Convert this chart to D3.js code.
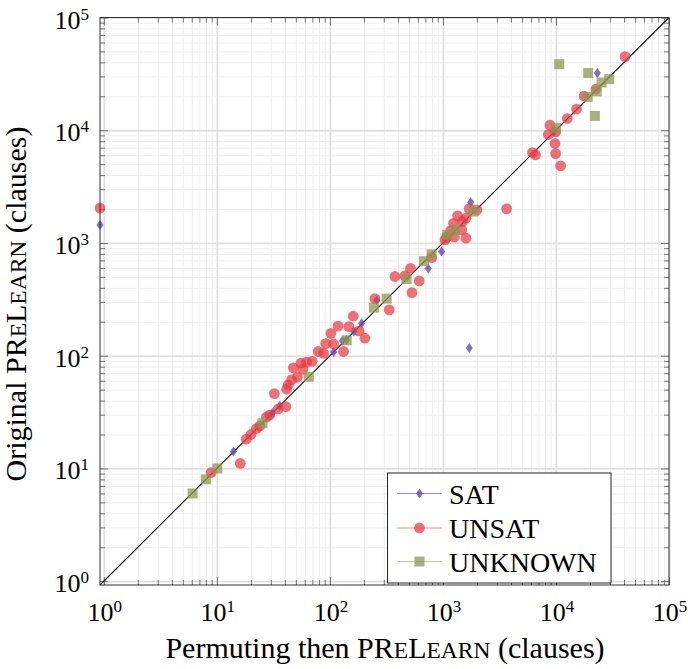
<!DOCTYPE html>
<html>
<head>
<meta charset="utf-8">
<script src="https://cdn.jsdelivr.net/npm/d3@7"></script>
<style>
body { margin: 0; background: #fff; }
text { font-family: "Liberation Serif", "DejaVu Serif", serif; fill: #000; }
</style>
</head>
<body>
<div id="chart"></div>
<script>
// values: [permuting then prelearn, original prelearn]
var satPoints = [[0.925,1440],[14,14.1],[31,31],[36,36],[108,108],[129,136],[140,138],[163,164],
  [191,194],[260,310],[741,593],[973,839],[1760,2300],[1710,117],[9600,9700],[23200,32200]];

var unsatPoints = [[0.925,2040],[8.9,9.2],[16.1,11.1],[18.2,18.2],[20,20],[22.4,22.6],[24,23.8],
  [27.5,28.5],[29.4,29.8],[32.3,46.1],[34.9,33.7],[40.8,35.3],[41.4,50.4],[42.8,55.1],[45.8,61],
  [47.5,78],[51.6,64.4],[55.4,85.8],[57.7,75.7],[62.2,87.5],[69.7,89],[78.8,109],[87.9,105],
  [91.8,128],[102,158],[108,127],[118,183],[132,109],[147,181],[161,224],[181,166],[204,143],
  [250,321],[335,255],[376,504],[461,511],[516,595],[617,461],[532,363],[794,741],[1042,1065],
  [1079,1125],[1259,1125],[1170,1288],[1239,1493],[1349,1740],[1489,1555],[1599,1660],[1599,1104],
  [1710,2017],[2000,1967],[1465,1306],[3660,2008],[6200,6340],[6590,6050],[8550,9160],[8850,11100],
  [9940,9680],[9800,7620],[9940,6210],[11000,4830],[12600,12700],[15200,15400],[17700,20100],
  [22600,23200],[40800,45000]];

var unknownPoints = [[6.1,6],[8,8],[10.1,10],[25.3,25.2],[65,65],[141,137],[245,267],[318,321],
  [477,478],[679,689],[794,793],[1092,1180],[1277,1306],[1862,1900],[10000,10440],[10700,38500],
  [19300,32200],[22900,22100],[19100,19700],[25300,26500],[29600,28400],[22100,13400]];

var seriesNames = ["SAT", "UNSAT", "UNKNOWN"];
var majorTicks = [1, 10, 100, 1000, 10000, 100000];
var tickExponents = ["0", "1", "2", "3", "4", "5"];
var minorTicks = [];
majorTicks.slice(0, 5).forEach(function(m) {
  for (var k = 2; k < 10; k++) minorTicks.push(k * m);
});

var W = 688, H = 669;
var plotLeft = 100, plotRight = 669, plotTop = 17.5, plotBottom = 585;

var x = d3.scaleLog().domain([0.925, 1e5]).range([plotLeft, plotRight]);
var y = d3.scaleLog().domain([0.925, 1e5]).range([plotBottom, plotTop]);

var svg = d3.select("#chart").append("svg")
  .attr("width", W)
  .attr("height", H);

// grid
function gridStyle(g, color, width) {
  g.select(".domain").remove();
  g.selectAll("line").attr("stroke", color).attr("stroke-width", width);
}
svg.append("g").attr("transform", "translate(0," + plotBottom + ")")
  .call(d3.axisBottom(x).tickValues(minorTicks).tickSize(-(plotBottom - plotTop)).tickFormat(""))
  .call(gridStyle, "#eeeeee", 1);
svg.append("g").attr("transform", "translate(" + plotLeft + ",0)")
  .call(d3.axisLeft(y).tickValues(minorTicks).tickSize(-(plotRight - plotLeft)).tickFormat(""))
  .call(gridStyle, "#eeeeee", 1);
svg.append("g").attr("transform", "translate(0," + plotBottom + ")")
  .call(d3.axisBottom(x).tickValues(majorTicks).tickSize(-(plotBottom - plotTop)).tickFormat(""))
  .call(gridStyle, "#e0e0e0", 1.8);
svg.append("g").attr("transform", "translate(" + plotLeft + ",0)")
  .call(d3.axisLeft(y).tickValues(majorTicks).tickSize(-(plotRight - plotLeft)).tickFormat(""))
  .call(gridStyle, "#e0e0e0", 1.8);

// ticks pointing inwards on all four sides
function tickStyle(g) {
  g.select(".domain").remove();
  g.selectAll("line").attr("stroke", "#555").attr("stroke-width", 0.8);
}
[[d3.axisBottom, x, "translate(0," + plotBottom + ")"],
 [d3.axisTop, x, "translate(0," + plotTop + ")"],
 [d3.axisLeft, y, "translate(" + plotLeft + ",0)"],
 [d3.axisRight, y, "translate(" + plotRight + ",0)"]].forEach(function(a) {
  svg.append("g").attr("transform", a[2])
    .call(a[0](a[1]).tickValues(minorTicks).tickSize(-5).tickFormat(""))
    .call(tickStyle);
  svg.append("g").attr("transform", a[2])
    .call(a[0](a[1]).tickValues(majorTicks).tickSize(-8).tickFormat(""))
    .call(tickStyle);
});

// tick labels 10^n
function powerLabel(t, i) {
  t.append("tspan").text("10");
  t.append("tspan").attr("dy", -9).attr("font-size", 17).text(tickExponents[i]);
}
majorTicks.forEach(function(d, i) {
  svg.append("text")
    .attr("x", x(d) + 1)
    .attr("y", 621)
    .attr("text-anchor", "middle")
    .attr("font-size", 26)
    .call(powerLabel, i);
  svg.append("text")
    .attr("x", 89)
    .attr("y", y(d) + 11)
    .attr("text-anchor", "end")
    .attr("font-size", 26)
    .call(powerLabel, i);
});

// diagonal y = x
svg.append("line")
  .attr("x1", x(0.925)).attr("y1", y(0.925))
  .attr("x2", x(1e5)).attr("y2", y(1e5))
  .attr("stroke", "#111")
  .attr("stroke-width", 1.1);

// markers
var colors = ["#6246bb", "#e83a44", "#8c9852"];
var opac = [0.8, 0.72, 0.75];
var lineColors = ["#9a8ad6", "#f08a8e", "#c2c89e"];

function drawMarker(sel, s) {
  if (s == 0) {
    sel.append("path").attr("d", "M0,-5L3.5,0L0,5L-3.5,0Z");
  } else if (s == 1) {
    sel.append("circle").attr("r", 5.4);
  } else {
    sel.append("rect").attr("x", -5).attr("y", -5).attr("width", 10).attr("height", 10);
  }
}

[satPoints, unsatPoints, unknownPoints].forEach(function(pts, s) {
  svg.append("g")
    .attr("fill", colors[s])
    .attr("fill-opacity", opac[s])
    .selectAll("g")
    .data(pts)
    .enter().append("g")
    .attr("transform", function(d) { return "translate(" + x(d[0]) + "," + y(d[1]) + ")"; })
    .each(function() { drawMarker(d3.select(this), s); });
});

// frame
svg.append("rect")
  .attr("x", plotLeft).attr("y", plotTop)
  .attr("width", plotRight - plotLeft).attr("height", plotBottom - plotTop)
  .attr("fill", "none")
  .attr("stroke", "#333")
  .attr("stroke-width", 1);

// legend
var legend = svg.append("g");
legend.append("rect")
  .attr("x", 387.5).attr("y", 473)
  .attr("width", 223.5).attr("height", 110)
  .attr("fill", "#fff")
  .attr("stroke", "#222")
  .attr("stroke-width", 1);
var rowY = [493.5, 528, 561.5];
seriesNames.forEach(function(name, s) {
  legend.append("line")
    .attr("x1", 397).attr("x2", 442)
    .attr("y1", rowY[s]).attr("y2", rowY[s])
    .attr("stroke", lineColors[s])
    .attr("stroke-width", 1);
  legend.append("g")
    .attr("transform", "translate(419.5," + rowY[s] + ")")
    .attr("fill", colors[s])
    .attr("fill-opacity", opac[s])
    .call(drawMarker, s);
  legend.append("text")
    .attr("x", 449)
    .attr("y", rowY[s] + 10)
    .attr("font-size", 28)
    .text(name);
});

// axis titles
function prelearn(t, before, after) {
  t.append("tspan").text(before + "PR");
  t.append("tspan").attr("font-size", 23.5).text("E");
  t.append("tspan").text("L");
  t.append("tspan").attr("font-size", 23.5).text("EARN");
  t.append("tspan").text(after);
}
svg.append("text")
  .attr("x", 385)
  .attr("y", 658)
  .attr("text-anchor", "middle")
  .attr("font-size", 30)
  .call(prelearn, "Permuting then ", " (clauses)");

svg.append("text")
  .attr("transform", "translate(26,304) rotate(-90)")
  .attr("text-anchor", "middle")
  .attr("font-size", 30)
  .call(prelearn, "Original ", " (clauses)");
</script>
</body>
</html>
